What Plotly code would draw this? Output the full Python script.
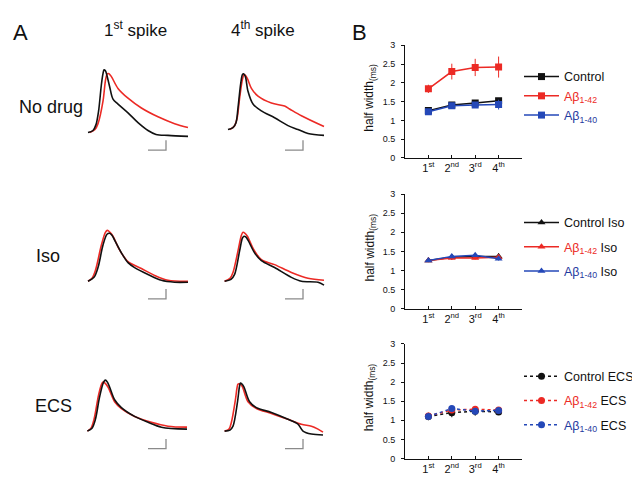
import plotly.graph_objects as go

W, H = 640, 479
FONT = "Arial, Liberation Sans, sans-serif"
BLACK = "#111111"
RED = "#ec2a25"
BLUE = "#2448b8"
BLUE_TXT = "#1f3aa0"
GRAY = "#8a8a8a"

# ---------------- Panel A: spike waveforms (t in ms, v in mV re. baseline) ----------------
# No drug, 1st spike
nd1_ctrl_t = [0, 0.25, 0.4, 0.53, 0.67, 0.75, 0.8, 0.87, 0.95, 1.08, 1.25, 1.5, 2.0, 2.5, 3.0, 3.4, 4.0, 5.0]
nd1_ctrl_v = [0, 2, 8, 22, 49, 60, 64, 63, 58, 47, 34, 29, 20, 10, 2, -2, -3, -4]
nd1_ab_t = [0.08, 0.35, 0.5, 0.75, 0.88, 0.97, 1.05, 1.17, 1.5, 2.0, 2.67, 3.5, 4.33, 5.0]
nd1_ab_v = [0, 3, 9, 32, 54, 60, 60, 57, 45, 35, 25, 16, 9, 5]
# No drug, 4th spike
nd4_ctrl_t = [0, 0.25, 0.4, 0.5, 0.63, 0.72, 0.78, 0.87, 1.0, 1.25, 1.67, 2.33, 3.0, 3.5, 4.0, 4.8]
nd4_ctrl_v = [3, 5, 10, 25, 49, 59, 60, 57, 42, 29, 22, 15, 7, 3, -1, -3]
nd4_ab_t = [0.08, 0.3, 0.45, 0.58, 0.72, 0.8, 0.88, 0.97, 1.17, 1.5, 2.17, 2.83, 3.08, 3.67, 4.8]
nd4_ab_v = [3, 6, 14, 35, 54, 59, 58, 55, 45, 37, 30, 27, 24, 17, 6]
# Iso, 1st spike
iso1_ctrl_t = [0, 0.3, 0.5, 0.75, 0.95, 1.08, 1.2, 1.33, 1.67, 2.0, 2.33, 3.0, 3.67, 4.33, 5.0]
iso1_ctrl_v = [0, 4, 14, 37, 48, 49, 47, 42, 29, 19, 14, 7, 1, -1, -1]
iso1_ab_t = [0, 0.2, 0.37, 0.67, 0.87, 0.97, 1.1, 1.25, 1.58, 2.0, 2.67, 3.33, 4.0, 5.0]
iso1_ab_v = [0, 3, 11, 37, 50, 52, 50, 46, 32, 20, 13, 6, 1, 0]
# Iso, 4th spike
iso4_ctrl_t = [-0.17, 0.15, 0.33, 0.58, 0.72, 0.8, 0.9, 1.0, 1.33, 1.67, 2.33, 3.17, 3.67, 4.5, 4.8]
iso4_ctrl_v = [0, 2, 7, 31, 44, 46, 45, 42, 29, 21, 14, 4, 0, -1, -4]
iso4_ab_t = [-0.17, 0.1, 0.25, 0.5, 0.67, 0.75, 0.85, 0.97, 1.3, 1.67, 2.33, 3.17, 4.0, 4.8]
iso4_ab_v = [0, 3, 9, 31, 47, 50, 49, 46, 32, 22, 17, 9, 3, 1]
# ECS, 1st spike
ecs1_ctrl_t = [-0.03, 0.2, 0.37, 0.58, 0.78, 0.87, 0.97, 1.08, 1.33, 1.67, 2.33, 3.0, 3.67, 4.95]
ecs1_ctrl_v = [0, 3, 12, 35, 50, 52, 50, 45, 32, 24, 15, 9, 4, 2]
ecs1_ab_t = [-0.03, 0.15, 0.3, 0.53, 0.68, 0.75, 0.85, 1.0, 1.33, 1.67, 2.33, 3.17, 4.0, 4.95]
ecs1_ab_v = [0, 3, 12, 37, 48, 50, 49, 45, 30, 23, 15, 9, 5, 4]
# ECS, 4th spike
ecs4_ctrl_t = [-0.17, 0.1, 0.25, 0.47, 0.57, 0.62, 0.7, 0.8, 1.08, 1.42, 2.17, 3.0, 3.5, 3.75, 4.17, 4.75]
ecs4_ctrl_v = [0, 1, 5, 29, 45, 49, 48, 45, 30, 24, 19, 12, 7, 0, -3, -4]
ecs4_ab_t = [-0.17, 0.05, 0.17, 0.37, 0.45, 0.5, 0.58, 0.7, 1.0, 1.42, 2.17, 3.0, 3.67, 4.17, 4.5, 4.75]
ecs4_ab_v = [0, 2, 9, 32, 44, 48, 48, 46, 30, 23, 18, 12, 7, 5, 2, -1]

# scale bars (0.9 ms x 10 mV)
scalebar_dt = [0, 0.9, 0.9]
scalebar_dv = [0, 0, 10]
scalebar_start_t = [3.0, 2.85]   # column 1, column 2
scalebar_start_v = -18

row_labels = ["No drug", "Iso", "ECS"]
col_labels = ["1<sup>st</sup> spike", "4<sup>th</sup> spike"]

# ---------------- Panel B: half width (ms) ----------------
spike_num = [1, 2, 3, 4]
spike_ticks = ["1<sup>st</sup>", "2<sup>nd</sup>", "3<sup>rd</sup>", "4<sup>th</sup>"]
half_width_ticks = [0, 0.5, 1, 1.5, 2, 2.5, 3]
half_width_ticktext = ["0", "0.5", "1", "1.5", "2", "2.5", "3"]

ctrl_nodrug = [1.26, 1.41, 1.46, 1.52]
ctrl_nodrug_err = [0.05, 0.07, 0.08, 0.07]
ab42_nodrug = [1.84, 2.30, 2.41, 2.42]
ab42_nodrug_err = [0.11, 0.21, 0.23, 0.28]
ab40_nodrug = [1.23, 1.39, 1.41, 1.42]
ab40_nodrug_err = [0.04, 0.06, 0.08, 0.13]

ctrl_iso = [1.26, 1.35, 1.37, 1.37]
ctrl_iso_err = [0.04, 0.07, 0.05, 0.08]
ab42_iso = [1.26, 1.33, 1.33, 1.35]
ab42_iso_err = [0.03, 0.04, 0.04, 0.04]
ab40_iso = [1.26, 1.37, 1.40, 1.31]
ab40_iso_err = [0.03, 0.04, 0.04, 0.05]

ctrl_ecs = [1.10, 1.20, 1.24, 1.22]
ctrl_ecs_err = [0.10, 0.12, 0.12, 0.06]
ab42_ecs = [1.11, 1.27, 1.29, 1.27]
ab42_ecs_err = [0.05, 0.06, 0.06, 0.05]
ab40_ecs = [1.10, 1.31, 1.24, 1.26]
ab40_ecs_err = [0.05, 0.06, 0.06, 0.05]


def xdom(a, b):
    return [a / W, b / W]


def ydom(top, bottom):
    return [1 - bottom / H, 1 - top / H]


fig = go.Figure()
layout = dict(width=W, height=H, autosize=False, margin=dict(l=0, r=0, t=0, b=0),
              paper_bgcolor="white", plot_bgcolor="white", showlegend=True,
              font=dict(family=FONT, color=BLACK))

# ---- Panel A axes ----
col_px = [(76, 184), (216, 324)]
row_px = [(45, 150, [-28, 77]), (200, 305, [-31, 74]), (352, 457, [-30, 75])]
waves = [
    [(nd1_ctrl_t, nd1_ctrl_v, nd1_ab_t, nd1_ab_v), (nd4_ctrl_t, nd4_ctrl_v, nd4_ab_t, nd4_ab_v)],
    [(iso1_ctrl_t, iso1_ctrl_v, iso1_ab_t, iso1_ab_v), (iso4_ctrl_t, iso4_ctrl_v, iso4_ab_t, iso4_ab_v)],
    [(ecs1_ctrl_t, ecs1_ctrl_v, ecs1_ab_t, ecs1_ab_v), (ecs4_ctrl_t, ecs4_ctrl_v, ecs4_ab_t, ecs4_ab_v)],
]
k = 0
for r in range(3):
    for c in range(2):
        k += 1
        xa = "x" if k == 1 else f"x{k}"
        ya = "y" if k == 1 else f"y{k}"
        xkey = "xaxis" if k == 1 else f"xaxis{k}"
        ykey = "yaxis" if k == 1 else f"yaxis{k}"
        layout[xkey] = dict(domain=xdom(*col_px[c]), range=[-0.2, 5.2], visible=False,
                            anchor=ya, fixedrange=True)
        layout[ykey] = dict(domain=ydom(row_px[r][0], row_px[r][1]), range=row_px[r][2],
                            visible=False, anchor=xa, fixedrange=True)
        ct, cv, at, av = waves[r][c]
        fig.add_trace(go.Scatter(x=at, y=av, mode="lines", xaxis=xa, yaxis=ya,
                                 line=dict(color=RED, width=1.6, shape="spline", smoothing=0.9),
                                 showlegend=False, hoverinfo="skip"))
        fig.add_trace(go.Scatter(x=ct, y=cv, mode="lines", xaxis=xa, yaxis=ya,
                                 line=dict(color=BLACK, width=1.6, shape="spline", smoothing=0.9),
                                 showlegend=False, hoverinfo="skip"))
        sb_t = [scalebar_start_t[c] + d for d in scalebar_dt]
        sb_v = [scalebar_start_v + d for d in scalebar_dv]
        fig.add_trace(go.Scatter(x=sb_t, y=sb_v, mode="lines", xaxis=xa, yaxis=ya,
                                 line=dict(color=GRAY, width=1.3),
                                 showlegend=False, hoverinfo="skip"))

# ---- Panel B axes ----
b_panels = [
    (33, 148, "legend", [
        ("Control", ctrl_nodrug, ctrl_nodrug_err, BLACK, "square", "solid"),
        (f'<span style="color:{RED}">Aβ<sub>1-42</sub></span>', ab42_nodrug, ab42_nodrug_err, RED, "square", "solid"),
        (f'<span style="color:{BLUE_TXT}">Aβ<sub>1-40</sub></span>', ab40_nodrug, ab40_nodrug_err, BLUE, "square", "solid"),
    ], 50, 0),
    (185, 302, "legend2", [
        ("Control Iso", ctrl_iso, ctrl_iso_err, BLACK, "triangle-up", "solid"),
        (f'<span style="color:{RED}">Aβ<sub>1-42</sub></span> Iso', ab42_iso, ab42_iso_err, RED, "triangle-up", "solid"),
        (f'<span style="color:{BLUE_TXT}">Aβ<sub>1-40</sub></span> Iso', ab40_iso, ab40_iso_err, BLUE, "triangle-up", "solid"),
    ], 199, 5),
    (338, 455, "legend3", [
        ("Control ECS", ctrl_ecs, ctrl_ecs_err, BLACK, "circle", "dot"),
        (f'<span style="color:{RED}">Aβ<sub>1-42</sub></span> ECS', ab42_ecs, ab42_ecs_err, RED, "circle", "dot"),
        (f'<span style="color:{BLUE_TXT}">Aβ<sub>1-40</sub></span> ECS', ab40_ecs, ab40_ecs_err, BLUE, "circle", "dot"),
    ], 356, 5),
]

annotations = []
for i, (top, bottom, lg, series, legtop, gap) in enumerate(b_panels):
    k += 1
    xa, ya = f"x{k}", f"y{k}"
    layout[f"xaxis{k}"] = dict(domain=xdom(397, 514), range=[0, 5], anchor=ya,
                               tickvals=spike_num + [5], ticktext=spike_ticks + [""],
                               ticks="inside", ticklen=3, tickcolor=BLACK, tickwidth=1,
                               showline=True, linecolor=BLACK, linewidth=1,
                               showgrid=False, zeroline=False, ticklabelstandoff=0,
                               tickfont=dict(size=11, color=BLACK), fixedrange=True)
    layout[f"yaxis{k}"] = dict(domain=ydom(top, bottom), range=[0, 3], anchor=xa,
                               tickvals=half_width_ticks, ticktext=half_width_ticktext,
                               ticks="outside", ticklen=3, tickcolor=BLACK, tickwidth=1,
                               showline=True, linecolor=BLACK, linewidth=1,
                               showgrid=False, zeroline=False, ticklabelstandoff=4,
                               tickfont=dict(size=9, color=BLACK), fixedrange=True)
    layout[lg] = dict(x=511 / W, y=1 - legtop / H, xanchor="left", yanchor="top",
                      bgcolor="rgba(0,0,0,0)", font=dict(size=12.5, color=BLACK),
                      itemwidth=35, tracegroupgap=gap, traceorder="grouped")
    for j, (name, vals, errs, color, sym, dash) in enumerate(series):
        fig.add_trace(go.Scatter(
            x=spike_num, y=vals, name=name, xaxis=xa, yaxis=ya, mode="lines+markers",
            line=dict(color=color, width=1.5, dash=dash),
            marker=dict(symbol=sym, size=7, color=color),
            error_y=dict(type="data", array=errs, color=color, thickness=1, width=0),
            legend=lg, legendgroup=f"{lg}_{j}"))
    annotations.append(dict(text="half width<sub>(ms)</sub>", x=362 / W,
                            y=1 - ((top + bottom) / 2 - 4) / H, xref="paper", yref="paper",
                            textangle=-90, showarrow=False, xanchor="center", yanchor="middle",
                            font=dict(size=12, color=BLACK)))

# ---- text labels ----
annotations += [
    dict(text="A", x=3 / W, y=1 - 20 / H, xanchor="left", yanchor="middle", font=dict(size=22)),
    dict(text="B", x=342 / W, y=1 - 20 / H, xanchor="left", yanchor="middle", font=dict(size=22)),
    dict(text=col_labels[0], x=127 / W, y=1 - 16 / H, xanchor="center", yanchor="middle", font=dict(size=17)),
    dict(text=col_labels[1], x=255 / W, y=1 - 16 / H, xanchor="center", yanchor="middle", font=dict(size=17)),
    dict(text=row_labels[0], x=9 / W, y=1 - 96 / H, xanchor="left", yanchor="middle", font=dict(size=18)),
    dict(text=row_labels[1], x=26 / W, y=1 - 248 / H, xanchor="left", yanchor="middle", font=dict(size=18)),
    dict(text=row_labels[2], x=25 / W, y=1 - 401 / H, xanchor="left", yanchor="middle", font=dict(size=18)),
]
for a in annotations:
    a.setdefault("xref", "paper")
    a.setdefault("yref", "paper")
    a.setdefault("showarrow", False)
    f = {kk: vv for kk, vv in a["font"].items() if kk not in ("family", "color")}
    a["font"] = dict(family=FONT, color=BLACK, **f)

layout["annotations"] = annotations
fig.update_layout(**layout)
fig.write_html("out.html")
